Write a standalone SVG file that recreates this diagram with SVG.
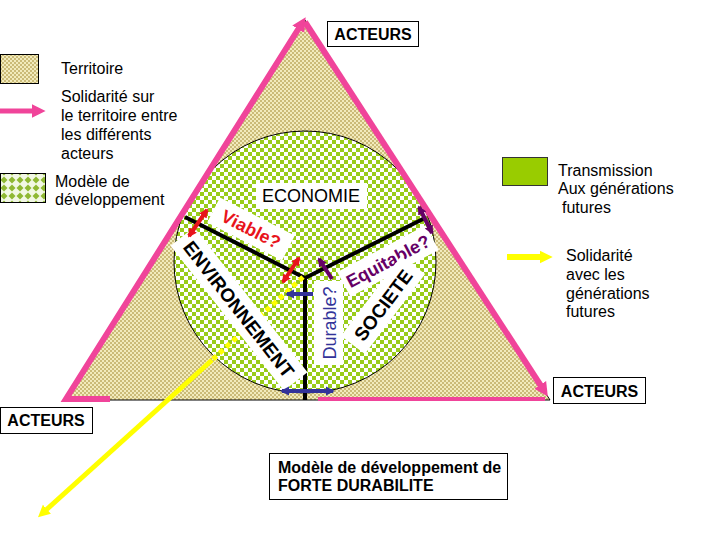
<svg xmlns="http://www.w3.org/2000/svg" width="720" height="540" viewBox="0 0 720 540">
<defs>
<style>
text{font-family:"Liberation Sans",Arial,Helvetica,sans-serif;fill:#000;}
.leg{font-size:16px;}
.act{font-size:16px;font-weight:bold;}
.box{fill:#fff;stroke:#000;stroke-width:1;}
.wbox{fill:#fff;}
.axis{stroke:#000;stroke-width:4;fill:none;}
.pink{stroke:#f0449a;stroke-width:6;fill:none;}
.yel{stroke:#ffff00;stroke-width:5;fill:none;}
.red{stroke:#e8141c;stroke-width:4;}
.pur{stroke:#660066;stroke-width:4;}
.nav{stroke:#333399;stroke-width:4;}
.lab{font-size:18px;}
.labb{font-size:18px;font-weight:bold;}
</style>
<pattern id="tan" patternUnits="userSpaceOnUse" width="4" height="4">
<rect width="4" height="4" fill="#f2ebbc"/>
<rect width="2" height="2" fill="#cbbb78"/>
<rect x="2" y="2" width="2" height="2" fill="#cbbb78"/>
</pattern>
<pattern id="chk" patternUnits="userSpaceOnUse" width="8" height="8">
<rect width="8" height="8" fill="#ffffff"/>
<rect width="4" height="4" fill="#99cc1a"/>
<rect x="4" y="4" width="4" height="4" fill="#99cc1a"/>
</pattern>
<pattern id="dia" patternUnits="userSpaceOnUse" width="8" height="8">
<rect width="8" height="8" fill="#f2f8e4"/>
<polygon points="4,0.5 7.5,4 4,7.5 0.5,4" fill="#8fb833"/>
</pattern>
<clipPath id="triClip"><polygon points="305,20 65,400 550,400"/></clipPath>
<marker id="mPink" viewBox="0 0 10 10" refX="1" refY="5" markerWidth="14" markerHeight="16" markerUnits="userSpaceOnUse" orient="auto"><path d="M0,0L10,5L0,10z" fill="#f0449a"/></marker>
<marker id="mYel" viewBox="0 0 10 10" refX="1" refY="5" markerWidth="12" markerHeight="14" markerUnits="userSpaceOnUse" orient="auto"><path d="M0,0L10,5L0,10z" fill="#ffff00"/></marker>
<marker id="mYelL" viewBox="0 0 10 10" refX="1" refY="5" markerWidth="13" markerHeight="17" markerUnits="userSpaceOnUse" orient="auto"><path d="M0,0L10,5L0,10z" fill="#ffff00"/></marker>
<marker id="mRed" viewBox="0 0 10 10" refX="8" refY="5" markerWidth="9" markerHeight="11" markerUnits="userSpaceOnUse" orient="auto-start-reverse"><path d="M0,0L10,5L0,10z" fill="#e8141c"/></marker>
<marker id="mPur" viewBox="0 0 10 10" refX="8" refY="5" markerWidth="9" markerHeight="11" markerUnits="userSpaceOnUse" orient="auto-start-reverse"><path d="M0,0L10,5L0,10z" fill="#660066"/></marker>
<marker id="mNav" viewBox="0 0 10 10" refX="8" refY="5" markerWidth="9" markerHeight="11" markerUnits="userSpaceOnUse" orient="auto-start-reverse"><path d="M0,0L10,5L0,10z" fill="#333399"/></marker>
</defs>

<rect width="720" height="540" fill="#ffffff"/>

<!-- Legend -->
<g id="legend-territoire">
<rect x="0.5" y="54.5" width="38" height="29" fill="url(#tan)" stroke="#000" stroke-width="1"/>
<text class="leg" x="61" y="74">Territoire</text>
</g>
<g id="legend-solidarite-territoire">
<line x1="0" y1="111" x2="33" y2="111" stroke="#f0449a" stroke-width="5" marker-end="url(#mPink)"/>
<text class="leg" x="61" y="102">Solidarité sur</text>
<text class="leg" x="61" y="121">le territoire entre</text>
<text class="leg" x="61" y="140">les différents</text>
<text class="leg" x="61" y="159">acteurs</text>
</g>
<g id="legend-modele">
<rect x="0.5" y="173.5" width="45" height="29" fill="url(#dia)" stroke="#000" stroke-width="1"/>
<text class="leg" x="55" y="187">Modèle de</text>
<text class="leg" x="55" y="205">développement</text>
</g>
<g id="legend-transmission">
<rect x="502.5" y="157.5" width="45" height="28" fill="#99cc00" stroke="#333" stroke-width="1"/>
<text class="leg" x="558" y="176">Transmission</text>
<text class="leg" x="558" y="194">Aux générations</text>
<text class="leg" x="562" y="213">futures</text>
</g>
<g id="legend-solidarite-generations">
<line x1="507" y1="257" x2="541" y2="257" stroke="#ffff00" stroke-width="6" marker-end="url(#mYelL)"/>
<text class="leg" x="566" y="261">Solidarité</text>
<text class="leg" x="566" y="280">avec les</text>
<text class="leg" x="566" y="299">générations</text>
<text class="leg" x="566" y="317">futures</text>
</g>

<!-- Territory triangle -->
<g id="territoire">
<polygon points="305,20 65,400 550,400" fill="url(#tan)" stroke="#000" stroke-width="1"/>
</g>

<!-- Development model circle -->
<g id="modele-developpement" clip-path="url(#triClip)">
<circle cx="305" cy="262" r="131" fill="url(#chk)" stroke="#000" stroke-width="1"/>
</g>

<g id="connectors">
<polyline class="pink" points="110,399 66,399 299,28" stroke-linejoin="miter" marker-end="url(#mPink)"/>
<line class="pink" x1="305" y1="22" x2="541" y2="386" marker-end="url(#mPink)"/>
<line x1="318" y1="399" x2="545" y2="399" stroke="#f0449a" stroke-width="4"/>
<line class="axis" x1="185" y1="217" x2="305" y2="278"/>
<line class="axis" x1="425" y1="218" x2="305" y2="278"/>
<line class="axis" x1="305" y1="276" x2="305" y2="400"/>
<line class="yel" x1="303" y1="277" x2="212" y2="360" stroke-dasharray="5 4"/>
<line class="yel" x1="212" y1="360" x2="46" y2="510" marker-end="url(#mYel)"/>
</g>

<!-- Labels in white boxes -->
<g id="economie">
<rect class="wbox" x="256" y="183" width="111" height="26"/>
<text class="lab" x="311" y="202" text-anchor="middle">ECONOMIE</text>
</g>
<g id="viable" transform="translate(251,229) rotate(27)">
<rect class="wbox" x="-42" y="-14" width="84" height="28"/>
<text class="labb" x="0" y="6.5" text-anchor="middle" style="fill:#e8141c">Viable?</text>
</g>
<g id="environnement" transform="translate(239,309) rotate(52)">
<rect class="wbox" x="-92" y="-15" width="184" height="30"/>
<text class="labb" x="0" y="7" text-anchor="middle" style="font-size:19px">ENVIRONNEMENT</text>
</g>
<g id="durable" transform="translate(329,323) rotate(-90)">
<rect class="wbox" x="-42" y="-15" width="84" height="29"/>
<text class="lab" x="0" y="6.5" text-anchor="middle" style="fill:#333399">Durable?</text>
</g>
<g id="equitable" transform="translate(388,261) rotate(-28)">
<rect class="wbox" x="-50" y="-14" width="100" height="28"/>
<text class="labb" x="0" y="6.5" text-anchor="middle" style="fill:#660066">Equitable?</text>
</g>
<g id="societe" transform="translate(383,305) rotate(-53)">
<rect class="wbox" x="-50" y="-15" width="100" height="30"/>
<text class="labb" x="0" y="7" text-anchor="middle" style="font-size:19px">SOCIETE</text>
</g>

<g id="tension-arrows">
<line class="red" x1="189" y1="236" x2="207" y2="210" marker-start="url(#mRed)" marker-end="url(#mRed)"/>
<line class="red" x1="283" y1="282" x2="299" y2="258" marker-start="url(#mRed)" marker-end="url(#mRed)"/>
<line class="pur" x1="332" y1="279" x2="319" y2="259" marker-end="url(#mPur)"/>
<line class="pur" x1="419" y1="207" x2="432" y2="233" marker-start="url(#mPur)" marker-end="url(#mPur)"/>
<line class="nav" x1="313" y1="294" x2="287" y2="294" marker-end="url(#mNav)"/>
<line class="nav" x1="282" y1="391" x2="333" y2="391" marker-start="url(#mNav)" marker-end="url(#mNav)"/>
</g>

<!-- Actors -->
<g id="acteurs-haut">
<rect class="box" x="327.5" y="21.5" width="91" height="25"/>
<text class="act" x="373" y="40" text-anchor="middle">ACTEURS</text>
</g>
<g id="acteurs-droite">
<rect class="box" x="553.5" y="377.5" width="92" height="26"/>
<text class="act" x="599.5" y="397" text-anchor="middle">ACTEURS</text>
</g>
<g id="acteurs-gauche">
<rect class="box" x="0.5" y="407.5" width="92" height="26"/>
<text class="act" x="46" y="426" text-anchor="middle">ACTEURS</text>
</g>

<g id="titre">
<rect class="box" x="269.5" y="453.5" width="238" height="46"/>
<text class="act" x="278" y="473">Modèle de développement de</text>
<text class="act" x="278" y="491">FORTE DURABILITE</text>
</g>
</svg>
